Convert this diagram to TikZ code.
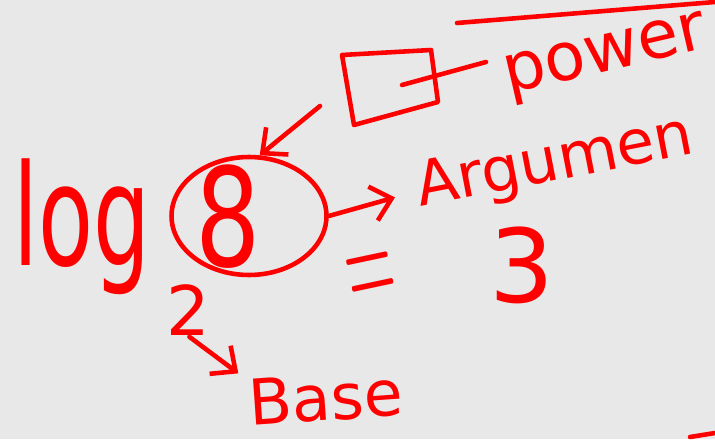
\documentclass[tikz,border=0pt]{standalone}
\usepackage{fontspec}
\setmainfont{DejaVu Sans}
\usepackage{tikz}
\usetikzlibrary{arrows.meta,shapes.geometric}
\definecolor{board}{HTML}{E8E8E8}
\definecolor{ink}{HTML}{FF0000}

\begin{document}
\begin{tikzpicture}[x=0.02cm,y=-0.02cm,>={Straight Barb[length=11pt,width=20pt]},
  pen/.style={draw=ink,line width=2.6pt,line cap=round,line join=round},
  word/.style={text=ink,inner sep=0pt}]
 \fill[board] (0,0) rectangle (715,439);
 \useasboundingbox (0,0) rectangle (715,439);
 % ---- log, argument and base
 \node[word,anchor=base,font=\fontsize{64}{64}\selectfont,xscale=0.8,yscale=1.25] (log) at (82,265) {log};
 \node[pen,ellipse,minimum width=3.1cm,minimum height=2.36cm] (circ) at (249,216) {};
 \node[word,font=\fontsize{78}{78}\selectfont,xscale=0.75] (eight) at (228,217) {8};
 \node[word,font=\fontsize{39}{39}\selectfont] (two) at (188,310) {2};
 % ---- labels
 \node[word,anchor=base west,rotate=11,font=\fontsize{35}{35}\selectfont] (arg) at (420,207) {Argumen};
 \node[word,anchor=base west,rotate=4,font=\fontsize{36}{36}\selectfont] (base) at (250,426) {Base};
 \node[word,anchor=base west,rotate=13,font=\fontsize{38}{38}\selectfont] (power) at (508,94) {power};
 \node[word,rotate=12,xscale=3.6,yscale=8] (eq) at (372,281) {$=$};
 \node[word,font=\fontsize{58}{58}\selectfont] (three) at (522,265) {3};
 % ---- empty box for the power
 \coordinate (boxtl) at (342,55);
 \coordinate (boxtr) at (431,50);
 \coordinate (boxbr) at (438,102);
 \coordinate (boxbl) at (354,125);
 \coordinate (boxin) at (402,85);
 \coordinate (powtail) at (486,62);
 \coordinate (boxfoot) at (320,106);
 \draw[pen] (boxtl) -- (boxtr) -- (boxbr) -- (boxbl) -- cycle;
 \draw[pen] (boxin) -- (powtail);
 % ---- arrows
 \draw[pen,->] (boxfoot) -- (circ.80);
 \draw[pen,->,shorten >=13pt] (circ.east) -- (arg.west);
 \draw[pen,->,shorten <=1pt,shorten >=6pt] (two.south) -- (base.north west);
 % ---- strokes at the edges
 \draw[pen] (457,23) -- (715,2);
 \draw[pen] (690,437) -- (715,433);
\end{tikzpicture}
\end{document}
